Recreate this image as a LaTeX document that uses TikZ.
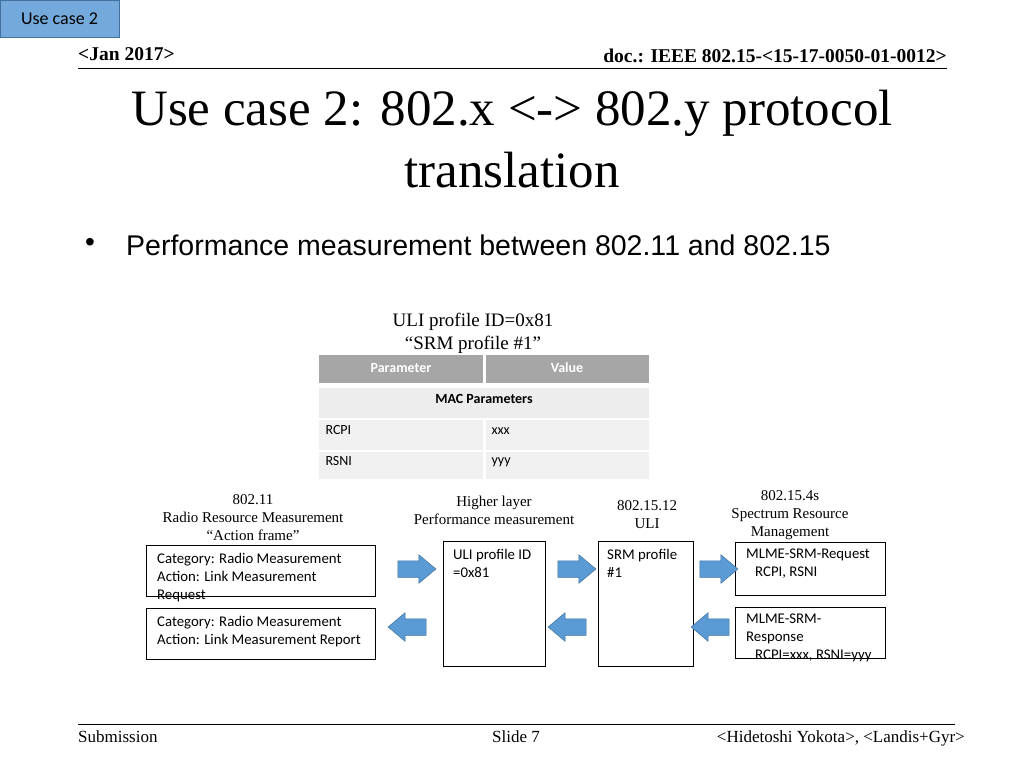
\documentclass[tikz,border=0pt]{standalone}
\usepackage{fontspec}
\setmainfont{Liberation Serif}
\newfontfamily\calfont{Carlito}
\newfontfamily\arl{Liberation Sans}
\usetikzlibrary{shapes.arrows}
\definecolor{ablue}{HTML}{5B9BD5}
\definecolor{aedge}{HTML}{41719C}
\begin{document}
\begin{tikzpicture}[x=1pt,y=-1pt,
  box/.style={draw,line width=0.8pt},
  btxt/.style={anchor=north west,inner sep=0pt,font=\calfont\fontsize{14.8}{18}\selectfont,align=left},
  lbl/.style={font=\fontsize{15}{18}\selectfont,align=center},
  rarr/.style={single arrow,fill=ablue,draw=aedge,line width=0.5pt,minimum height=38pt,inner xsep=0pt,inner ysep=8pt,single arrow head extend=6pt,single arrow tip angle=80,anchor=center},
  larr/.style={rarr,shape border rotate=180},
  cell/.style={anchor=west,font=\calfont\fontsize{14}{16}\selectfont}]
\useasboundingbox (0,0) rectangle (1024,768);
% tab
\node[draw=aedge,fill=ablue!85,minimum width=119pt,minimum height=37pt,inner sep=0pt,font=\calfont\fontsize{18}{20}\selectfont] (tab) at (59.5,18.5) {Use case 2};
\node[anchor=base west,font=\bfseries\fontsize{19.5}{22}\selectfont,inner sep=0pt] (date) at (78,60) {<Jan 2017>};
\node[anchor=base east,font=\bfseries\fontsize{19.5}{22}\selectfont,inner sep=0pt] (doc) at (947,63) {doc.: IEEE 802.15-<15-17-0050-01-0012>};
\draw[line width=0.8pt] (78,68) -- (947,68);
\node[font=\fontsize{51}{62}\selectfont,align=center] (title) at (512,139) {Use case 2: 802.x <-> 802.y protocol\\translation};
\node[font=\arl\fontsize{28}{32}\selectfont,inner sep=0pt] (bul) at (90,245) {•};
\node[anchor=west,font=\arl\fontsize{28.5}{32}\selectfont,inner sep=0pt] (btext) at (126,245) {Performance measurement between 802.11 and 802.15};
\node[font=\fontsize{19}{23}\selectfont,align=center] (uli) at (473,333) {ULI profile ID=0x81\\“SRM profile \#1”};
% table
\fill[gray!70] (319,355) rectangle (483,383);
\fill[gray!70] (486,355) rectangle (649,383);
\fill[gray!14] (319,388) rectangle (649,418);
\fill[gray!12] (319,420) rectangle (483,450);
\fill[gray!12] (486,420) rectangle (649,450);
\fill[gray!12] (319,452) rectangle (483,479);
\fill[gray!12] (486,452) rectangle (649,479);
\node[font=\calfont\bfseries\fontsize{14}{16}\selectfont,text=white] (h1) at (401,368) {Parameter};
\node[font=\calfont\bfseries\fontsize{14}{16}\selectfont,text=white] (h2) at (567,368) {Value};
\node[font=\calfont\bfseries\fontsize{14}{16}\selectfont] (mac) at (484,399) {MAC Parameters};
\node[cell] (r1) at (322,430) {RCPI};
\node[cell] (v1) at (488,431) {xxx};
\node[cell] (r2) at (322,461) {RSNI};
\node[cell] (v2) at (488,462) {yyy};
% labels
\node[lbl] (l1) at (253,518) {802.11\\Radio Resource Measurement\\“Action frame”};
\node[lbl] (l2) at (494,510) {Higher layer\\Performance measurement};
\node[lbl] (l3) at (647,515) {802.15.12\\ULI};
\node[lbl] (l4) at (790,515) {802.15.4s\\Spectrum Resource\\Management};
% boxes
\draw[box] (146,545) rectangle (375,596);
\draw[box] (146,608) rectangle (375,659);
\draw[box] (443,541) rectangle (545,666);
\draw[box] (598,541) rectangle (693,666);
\draw[box] (735,542) rectangle (885,595);
\draw[box] (735,607) rectangle (885,658);
\node[btxt] (ta) at (157,553) {Category: Radio Measurement\\Action: Link Measurement\\Request};
\node[btxt] (tb) at (157,616) {Category: Radio Measurement\\Action: Link Measurement Report};
\node[btxt] (tc) at (453,549) {ULI profile ID\\=0x81};
\node[btxt] (td) at (607,549) {SRM profile\\\#1};
\node[btxt] (te) at (746,549) {MLME-SRM-Request\\\hspace*{9pt}RCPI, RSNI};
\node[btxt] (tf) at (746,614) {MLME-SRM-\\Response\\\hspace*{9pt}RCPI=xxx, RSNI=yyy};
% arrows
\node[rarr] (a1) at (412,569) {};
\node[rarr] (a2) at (572,569) {};
\node[rarr] (a3) at (714,569) {};
\node[larr] (a4) at (412,627) {};
\node[larr] (a5) at (572,627) {};
\node[larr] (a6) at (715,627) {};
% footer
\draw[line width=0.8pt] (78,724) -- (955,724);
\node[anchor=base west,font=\fontsize{17}{18}\selectfont,inner sep=0pt] (sub) at (78,742) {Submission};
\node[anchor=base,font=\fontsize{17}{18}\selectfont,inner sep=0pt] (sl) at (516,742) {Slide 7};
\node[anchor=base east,font=\fontsize{17}{18}\selectfont,inner sep=0pt] (au) at (965,742) {<Hidetoshi Yokota>, <Landis+Gyr>};
\end{tikzpicture}
\end{document}
